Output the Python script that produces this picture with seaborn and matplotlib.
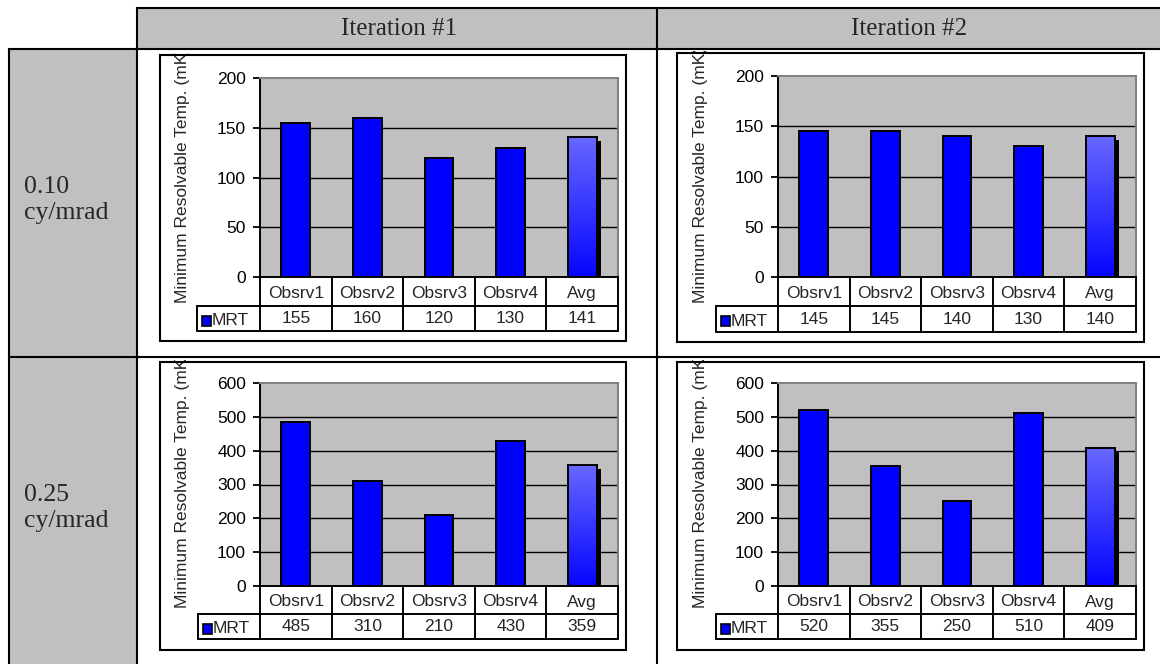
import numpy as np
import matplotlib
matplotlib.use("Agg")
import matplotlib.pyplot as plt
import seaborn as sns
from matplotlib.patches import Rectangle
from matplotlib.lines import Line2D
from matplotlib.colors import LinearSegmentedColormap
from matplotlib import transforms as mtrans

# ---- data -------------------------------------------------------------
categories = ["Obsrv1", "Obsrv2", "Obsrv3", "Obsrv4", "Avg"]
series_name = "MRT"
iterations = ["Iteration #1", "Iteration #2"]
frequencies = [("0.10", "cy/mrad"), ("0.25", "cy/mrad")]
mrt_010_iter1 = [155, 160, 120, 130, 141]
mrt_010_iter2 = [145, 145, 140, 130, 140]
mrt_025_iter1 = [485, 310, 210, 430, 359]
mrt_025_iter2 = [520, 355, 250, 510, 409]
yticks_010 = [0, 50, 100, 150, 200]
yticks_025 = [0, 100, 200, 300, 400, 500, 600]
ylabel = "Minimum Resolvable Temp. (mK)"

# ---- figure ------------------------------------------------------------
sns.set_style("white")
plt.rcParams["font.family"] = ["Liberation Sans", "DejaVu Sans"]

W, H = 1160, 664
fig = plt.figure(figsize=(W / 100, H / 100), dpi=100)
fig.patch.set_facecolor("white")

GRAY = "#C0C0C0"
SERIF = ["Liberation Serif", "DejaVu Serif"]


def fx(x):
    return x / W


def fy(y):
    return 1 - y / H


def fig_line(x0, y0, x1, y1, lw=1.5, color="black", z=6):
    fig.add_artist(Line2D([fx(x0), fx(x1)], [fy(y0), fy(y1)],
                          transform=fig.transFigure, color=color, lw=lw,
                          solid_capstyle="projecting", zorder=z))


# ---- surrounding layout table -----------------------------------------
fig.add_artist(Rectangle((fx(137), fy(49)), (W - 137) / W, 41 / H,
                         transform=fig.transFigure, facecolor=GRAY,
                         edgecolor="none", zorder=0))
fig.add_artist(Rectangle((fx(9), fy(H + 5)), 128 / W, (H + 5 - 49) / H,
                         transform=fig.transFigure, facecolor=GRAY,
                         edgecolor="none", zorder=0))
fig_line(137, 8, W + 2, 8)
fig_line(9, 49, W + 2, 49)
fig_line(9, 357, W + 2, 357)
fig_line(137, 8, 137, H + 2)
fig_line(657, 8, 657, H + 2)
fig_line(9, 49, 9, H + 2)

fig.text(fx(399), fy(35), iterations[0], family=SERIF, fontsize=18,
         ha="center", va="baseline")
fig.text(fx(909), fy(35), iterations[1], family=SERIF, fontsize=18,
         ha="center", va="baseline")
for (num, unit), (b1, b2) in zip(frequencies, [(193, 219), (501, 527)]):
    fig.text(fx(24), fy(b1), num, family=SERIF, fontsize=18.5,
             ha="left", va="baseline")
    fig.text(fx(24), fy(b2), unit, family=SERIF, fontsize=18.5,
             ha="left", va="baseline")

grad_cmap = LinearSegmentedColormap.from_list("avg", ["#0505FF", "#6868FF"])


def draw_chart(spec, values, ticks):
    bx0, by0, bx1, by1 = spec["box"]
    px0, py0, px1, py1 = spec["plot"]
    row1, row2 = spec["rows"]
    tleft = spec["tleft"]

    # chart frame
    fig.add_artist(Rectangle((fx(bx0), fy(by1)), (bx1 - bx0) / W,
                             (by1 - by0) / H, transform=fig.transFigure,
                             fill=False, edgecolor="black", lw=1.5, zorder=5))

    ax = fig.add_axes([fx(px0), fy(py1), (px1 - px0) / W, (py1 - py0) / H])
    ax.set_facecolor(GRAY)
    sns.barplot(x=categories, y=values, color="#0000FF", saturation=1,
                width=0.4, edgecolor="black", linewidth=1.4, ax=ax, zorder=3)

    ax.set_xlabel("")
    ax.set_ylabel("")
    ax.set_xticks([])
    ax.set_yticks(ticks)
    ax.tick_params(axis="y", length=5, width=1.3, direction="out", pad=5,
                   labelsize=12.5, colors="black", left=True)
    for t in ticks[1:-1]:
        ax.axhline(t, color="black", lw=1.0, zorder=1)
    for s in ("left", "bottom"):
        ax.spines[s].set(color="black", lw=1.4, visible=True)
    for s in ("top", "right"):
        ax.spines[s].set(color="#808080", lw=1.4, visible=True)

    # the average bar: drop shadow plus a vertical gradient fill
    avg_idx = categories.index("Avg")
    bar = min(ax.patches, key=lambda p: abs(p.get_x() + p.get_width() / 2 - avg_idx))
    x0, w, h = bar.get_x(), bar.get_width(), bar.get_height()
    shadow_tr = ax.transData + mtrans.ScaledTranslation(4 / 100, -4 / 100,
                                                        fig.dpi_scale_trans)
    ax.add_patch(Rectangle((x0, 0), w, h, transform=shadow_tr,
                           facecolor="black", edgecolor="none", zorder=2.5))
    im = ax.imshow(np.linspace(1, 0, 256).reshape(-1, 1), cmap=grad_cmap,
                   extent=(x0, x0 + w, 0, h), aspect="auto", origin="upper",
                   zorder=2.8, interpolation="bilinear")
    im.set_clip_path(bar)
    bar.set_facecolor("none")
    bar.set_zorder(3)

    ax.set_xlim(-0.5, len(categories) - 0.5)
    ax.set_ylim(ticks[0], ticks[-1])

    # data table under the plot
    ph, pw = py1 - py0, px1 - px0

    def ya(y):
        return (py1 - y) / ph

    def xa(x):
        return (x - px0) / pw

    blend = mtrans.blended_transform_factory(ax.transData, ax.transAxes)
    tl = dict(color="black", lw=1.4, clip_on=False, zorder=4)
    for i in range(len(categories) + 1):
        ax.add_line(Line2D([i - 0.5, i - 0.5], [0, ya(row2)],
                           transform=blend, **tl))
    for y in (row1, row2):
        ax.add_line(Line2D([xa(tleft), 1], [ya(y), ya(y)],
                           transform=ax.transAxes, **tl))
    ax.add_line(Line2D([xa(tleft), xa(tleft)], [ya(row1), ya(row2)],
                       transform=ax.transAxes, **tl))
    for i, (c, v) in enumerate(zip(categories, values)):
        ax.text(i, ya((py1 + row1) / 2 + 2), c, transform=blend, ha="center",
                va="center", fontsize=12.5)
        ax.text(i, ya((row1 + row2) / 2), str(v), transform=blend,
                ha="center", va="center", fontsize=12.5)
    ax.add_patch(Rectangle((xa(tleft + 5), ya((row1 + row2) / 2 + 7)),
                           9 / pw, 10 / ph, transform=ax.transAxes,
                           facecolor="#0000FF", edgecolor="black", lw=1.2,
                           clip_on=False, zorder=4))
    ax.text(xa(tleft + 15), ya((row1 + row2) / 2 + 2), series_name,
            transform=ax.transAxes, ha="left", va="center", fontsize=12.5)

    # y-axis title, clipped by the chart frame
    lab = ax.text(xa(px0 - 77), ya(spec["lab_bottom"]), ylabel,
                  transform=ax.transAxes, rotation=90, rotation_mode="anchor",
                  ha="left", va="center", fontsize=12.5)
    clip = mtrans.TransformedBbox(
        mtrans.Bbox.from_extents(fx(bx0), fy(by1), fx(bx1), fy(by0 - 2)),
        fig.transFigure)
    lab.set_clip_box(clip)
    lab.set_clip_on(True)
    return ax


specs = [
    dict(box=(160, 55, 626, 341), plot=(260, 78, 618, 277), rows=(306, 331),
         tleft=197, lab_bottom=303),
    dict(box=(677, 53, 1144, 342), plot=(778, 76, 1136, 277), rows=(306, 332),
         tleft=716, lab_bottom=303),
    dict(box=(160, 362, 626, 650), plot=(260, 383, 618, 586), rows=(614, 639),
         tleft=198, lab_bottom=608),
    dict(box=(677, 362, 1144, 650), plot=(778, 383, 1136, 586), rows=(614, 639),
         tleft=716, lab_bottom=608),
]
series = [mrt_010_iter1, mrt_010_iter2, mrt_025_iter1, mrt_025_iter2]
tick_sets = [yticks_010, yticks_010, yticks_025, yticks_025]

for spec, vals, tks in zip(specs, series, tick_sets):
    draw_chart(spec, vals, tks)

fig.savefig("out.png", dpi=100)
